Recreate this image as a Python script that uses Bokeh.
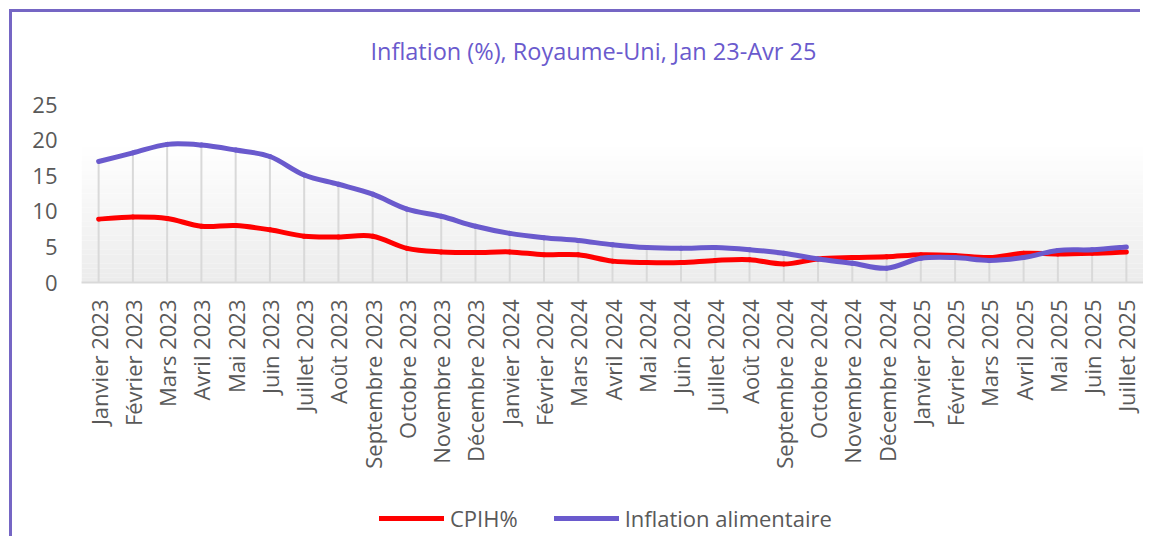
import math
from bokeh.plotting import figure
from bokeh.models import Range1d, FixedTicker, Legend, LegendItem, BoxAnnotation, Label
from bokeh.layouts import column
from bokeh.embed import file_html
from bokeh.resources import INLINE

months = ["Janvier 2023", "Février 2023", "Mars 2023", "Avril 2023", "Mai 2023", "Juin 2023",
          "Juillet 2023", "Août 2023", "Septembre 2023", "Octobre 2023", "Novembre 2023",
          "Décembre 2023", "Janvier 2024", "Février 2024", "Mars 2024", "Avril 2024", "Mai 2024",
          "Juin 2024", "Juillet 2024", "Août 2024", "Septembre 2024", "Octobre 2024",
          "Novembre 2024", "Décembre 2024", "Janvier 2025", "Février 2025", "Mars 2025",
          "Avril 2025", "Mai 2025", "Juin 2025", "Juillet 2025"]
cpih = [8.9, 9.2, 9.0, 7.9, 8.0, 7.4, 6.5, 6.4, 6.5, 4.8, 4.3, 4.2, 4.3, 3.9, 3.9, 3.0,
        2.8, 2.8, 3.1, 3.2, 2.6, 3.3, 3.5, 3.6, 3.9, 3.8, 3.5, 4.1, 4.0, 4.1, 4.3]
food = [17.0, 18.2, 19.4, 19.3, 18.6, 17.7, 15.1, 13.8, 12.4, 10.3, 9.3, 7.9, 6.9, 6.3,
        5.9, 5.3, 4.9, 4.8, 4.9, 4.6, 4.1, 3.3, 2.7, 2.0, 3.4, 3.5, 3.1, 3.5, 4.5, 4.6, 5.0]
y_ticks = [0, 5, 10, 15, 20, 25]
series_names = ["CPIH%", "Inflation alimentaire"]
title_text = "Inflation (%), Royaume-Uni, Jan 23-Avr 25"

RED = "#ff0000"
PURPLE = "#6a5acd"
FONT = "Open Sans"
W = 1131
H0 = 64
H1 = 406
H2 = 57
MBL = 69
MBR = 0

xs = list(range(len(months)))

# title strip
p0 = figure(width=W, height=H0, output_backend="svg", toolbar_location=None,
            x_range=Range1d(0, W - MBL - MBR), y_range=Range1d(0, H0),
            x_axis_location=None, y_axis_location=None,
            min_border_left=0, min_border_right=0, min_border_top=0, min_border_bottom=0)
p0.outline_line_color = None
p0.xgrid.grid_line_color = None
p0.ygrid.grid_line_color = None
p0.add_layout(Label(x=289, y=26, text=title_text, text_font=FONT, text_font_size="23.5px",
                    text_color=PURPLE, text_align="left", text_baseline="middle"))

p = figure(width=W, height=H1, output_backend="svg", toolbar_location=None,
           x_range=Range1d(-0.5, len(months) - 0.5), y_range=Range1d(0, 25),
           min_border_left=MBL, min_border_right=MBR, min_border_top=28, min_border_bottom=200)
p.outline_line_color = None
p.background_fill_color = "white"
p.border_fill_color = "white"
p.xgrid.grid_line_color = None
p.ygrid.grid_line_color = None

# gradient plot-area background
grad_top = 19.7
nb = 30
for k in range(nb):
    t = k / (nb - 1)
    c = int(round(0xec + (0xff - 0xec) * t))
    col = "#%02x%02x%02x" % (c, c, c)
    p.add_layout(BoxAnnotation(bottom=grad_top * k / nb, top=grad_top * (k + 1) / nb,
                               fill_color=col, fill_alpha=1, line_alpha=0, level="underlay"))

# drop lines
tops = [max(a, b) for a, b in zip(cpih, food)]
p.segment(x0=xs, y0=[0] * len(xs), x1=xs, y1=tops, line_color="#d9d9d9", line_width=2)


def bez(vals):
    n = len(vals)
    out = dict(x0=[], y0=[], x1=[], y1=[], cx0=[], cy0=[], cx1=[], cy1=[])
    for i in range(n - 1):
        pm = max(i - 1, 0)
        pp = min(i + 2, n - 1)
        out["x0"].append(xs[i]); out["y0"].append(vals[i])
        out["x1"].append(xs[i + 1]); out["y1"].append(vals[i + 1])
        out["cx0"].append(xs[i] + (xs[i + 1] - xs[pm]) / 6)
        out["cy0"].append(vals[i] + (vals[i + 1] - vals[pm]) / 6)
        out["cx1"].append(xs[i + 1] - (xs[pp] - xs[i]) / 6)
        out["cy1"].append(vals[i + 1] - (vals[pp] - vals[i]) / 6)
    return out


p.bezier(**bez(cpih), line_color=RED, line_width=5, line_cap="round")
p.bezier(**bez(food), line_color=PURPLE, line_width=5, line_cap="round")

# axes
p.xaxis.ticker = FixedTicker(ticks=xs)
p.xaxis.major_label_overrides = {i: m for i, m in enumerate(months)}
p.xaxis.major_label_orientation = math.pi / 2
p.xaxis.major_label_text_font = FONT
p.xaxis.major_label_text_font_size = "22px"
p.xaxis.major_label_text_color = "#595959"
p.xaxis.major_label_standoff = 11
p.xaxis.axis_line_color = "#d9d9d9"
p.xaxis.axis_line_width = 2
p.xaxis.major_tick_line_color = None
p.xaxis.minor_tick_line_color = None

p.yaxis.ticker = FixedTicker(ticks=y_ticks)
p.yaxis.major_label_text_font = FONT
p.yaxis.major_label_text_font_size = "22px"
p.yaxis.major_label_text_color = "#595959"
p.yaxis.major_label_standoff = 18
p.yaxis.axis_line_color = None
p.yaxis.major_tick_line_color = None
p.yaxis.minor_tick_line_color = None

# legend strip
p2 = figure(width=W, height=H2, output_backend="svg", toolbar_location=None,
            x_range=Range1d(-0.5, len(months) - 0.5), y_range=Range1d(0, 25),
            x_axis_location=None, y_axis_location=None,
            min_border_left=0, min_border_right=0, min_border_top=0, min_border_bottom=0)
p2.outline_line_color = None
p2.xgrid.grid_line_color = None
p2.ygrid.grid_line_color = None
r1 = p2.line(xs, cpih, line_color=RED, line_width=5, line_cap="round", visible=False)
r2 = p2.line(xs, food, line_color=PURPLE, line_width=5, line_cap="round", visible=False)

legend = Legend(items=[LegendItem(label=series_names[0], renderers=[r1]),
                       LegendItem(label=series_names[1], renderers=[r2])],
                orientation="horizontal", location=(298, 6))
legend.label_text_font = FONT
legend.label_text_font_size = "22px"
legend.label_text_color = "#595959"
legend.glyph_width = 65
legend.glyph_height = 20
legend.label_standoff = 6
legend.spacing = 36
legend.padding = 0
legend.margin = 0
legend.border_line_alpha = 0
legend.background_fill_alpha = 0
legend.inactive_fill_alpha = 0
p2.add_layout(legend, "center")

layout = column(p0, p, p2, margin=(12, 0, 0, 12),
                styles={"box-shadow": "-3px -3px 0 0 #7566c4"})

open("out.html", "w").write(file_html(layout, INLINE))
